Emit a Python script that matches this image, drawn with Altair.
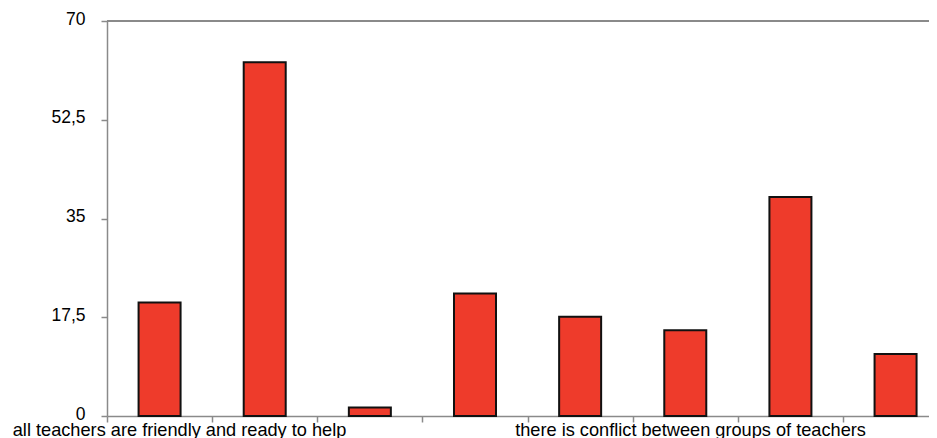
import altair as alt
import pandas as pd

# Data
group_names = [
    "all teachers are friendly and ready to help",
    "there is conflict between groups of teachers",
]
bar_groups = [0, 0, 0, 1, 1, 1, 1, 1]
values = [20.1, 62.7, 1.5, 21.7, 17.6, 15.2, 38.8, 11.0]
y_ticks = [0, 17.5, 35, 52.5, 70]
group_label_centers = [0.69, 5.55]  # label anchor along the category axis (in bar slots)

bars_df = pd.DataFrame({
    "slot": [i + 0.5 for i in range(len(values))],
    "value": values,
    "group": [group_names[g] for g in bar_groups],
})
labels_df = pd.DataFrame({"pos": group_label_centers, "label": group_names})

W, H = 822, 395
n_visible = 7.818
x_scale = alt.Scale(domain=[0, n_visible], nice=False, zero=False, padding=0)
y_scale = alt.Scale(domain=[0, 70], nice=False, padding=0)

axis_color = "#8a8a8a"
font = "Liberation Sans"

bars = alt.Chart(bars_df).mark_bar(
    size=42, color="#EE3B2B", stroke="#111111", strokeWidth=2
).encode(
    x=alt.X("slot:Q", scale=x_scale,
            axis=alt.Axis(values=list(range(8)), labels=False, title=None, grid=False,
                          tickSize=6, tickColor=axis_color, tickWidth=1.5,
                          domainColor=axis_color, domainWidth=1.5)),
    y=alt.Y("value:Q", scale=y_scale,
            axis=alt.Axis(values=y_ticks, title=None, grid=False,
                          labelExpr="replace(toString(datum.value), '.', ',')",
                          labelFont=font, labelFontSize=17.5, labelColor="#000000",
                          labelOffset=-2,
                          labelPadding=16, tickSize=6, tickColor=axis_color, tickWidth=1.5,
                          domainColor=axis_color, domainWidth=1.5)),
)

top_line = alt.Chart(bars_df).mark_rule(color=axis_color, strokeWidth=2).encode(
    y=alt.datum(70)
)

group_text = alt.Chart(labels_df).mark_text(
    font=font, fontSize=18.2, align="center", baseline="alphabetic", color="#000000"
).encode(
    x=alt.X("pos:Q", scale=x_scale),
    y=alt.value(H + 20),
    text="label:N",
)

chart = alt.layer(top_line, bars, group_text).properties(
    width=W, height=H,
    autosize=alt.AutoSizeParams(type="none"),
    padding={"left": 99, "top": 13, "right": 0, "bottom": 22},
).configure_view(stroke=None).configure(background="white")

chart.save("out.html", embed_options={"renderer": "svg", "actions": False})
